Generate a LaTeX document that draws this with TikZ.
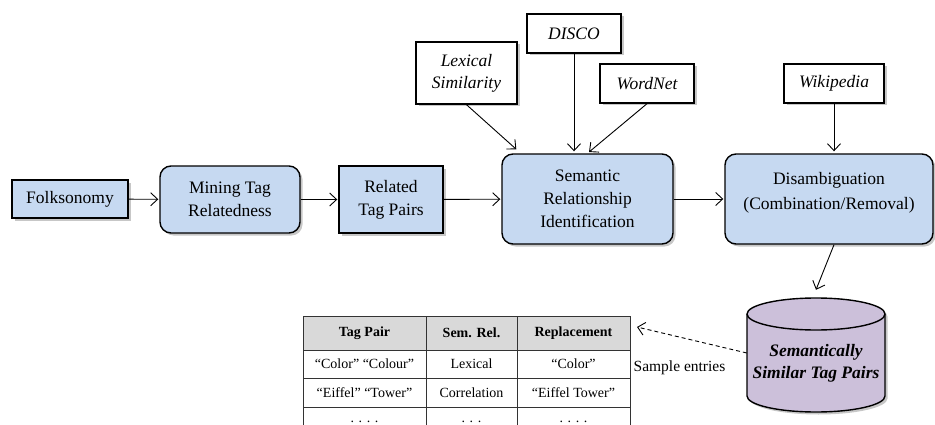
\documentclass[tikz,border=0pt]{standalone}
\usepackage{fontspec}
\setmainfont{Liberation Serif}
\usetikzlibrary{arrows.meta,shadows,calc}
\definecolor{boxblue}{HTML}{C6D9F1}
\definecolor{cylpurple}{HTML}{CCC0DA}
\definecolor{hdrgray}{HTML}{D9D9D9}
\begin{document}
\begin{tikzpicture}[x=1pt,y=1pt,
  shad/.style={drop shadow={shadow xshift=2.5pt,shadow yshift=-2.5pt,fill=black,opacity=0.22}},
  proc/.style={draw, line width=1.4pt, fill=boxblue, shad, align=center,
    font=\fontsize{17.5}{23}\selectfont, inner sep=0pt},
  rproc/.style={proc, rounded corners=11pt},
  src/.style={draw, line width=1.4pt, fill=white, shad, align=center,
    font=\itshape\fontsize{17.5}{22}\selectfont, inner sep=0pt},
  conn/.style={-{Straight Barb[length=7pt,width=13pt]}, line width=0.9pt},
  cell/.style={draw=black!80, line width=0.8pt, inner sep=0pt, font=\fontsize{14}{16}\selectfont},
  hcell/.style={cell, fill=hdrgray, font=\bfseries\fontsize{14}{16}\selectfont},
  txt/.style={align=center, inner sep=0pt}
]
\useasboundingbox[fill=white] (0,0) rectangle (935,424);

% main flow
\node[proc, minimum width=116pt, minimum height=38pt] (folk) at (70,225) {Folksonomy};
\node[rproc, minimum width=140pt, minimum height=67pt] (mine) at (230,224.5) {Mining Tag\\Relatedness};
\node[proc, minimum width=104pt, minimum height=67pt] (rel) at (391,224.5) {Related\\Tag Pairs};
\node[rproc, minimum width=171pt, minimum height=90pt] (sem) at (587.5,225) {Semantic\\Relationship\\Identification};
\node[rproc, minimum width=208pt, minimum height=90pt] (dis) at (829,225) {};
\node[txt, font=\fontsize{17.5}{25}\selectfont] (disT) at (829,231.5) {Disambiguation\\(Combination/Removal)};

% sources
\node[src, minimum width=101pt, minimum height=62pt] (lex) at (466.5,351) {Lexical\\Similarity};
\node[src, minimum width=94pt, minimum height=39pt] (disco) at (574,390.5) {DISCO};
\node[src, minimum width=94pt, minimum height=39pt] (wn) at (647,340.5) {WordNet};
\node[src, minimum width=100pt, minimum height=39pt] (wiki) at (834,340.5) {Wikipedia};

% cylinder
\path[fill=cylpurple, draw, line width=1.4pt, shad]
  (747,110) -- (747,28) arc[start angle=180,end angle=360,x radius=69pt,y radius=16pt]
  -- (885,110) arc[start angle=0,end angle=180,x radius=69pt,y radius=16pt] -- cycle;
\draw[line width=1.4pt] (747,110) arc[start angle=180,end angle=360,x radius=69pt,y radius=16pt];
\node[minimum width=138pt, minimum height=114pt, inner sep=0pt] (db) at (816,69) {};
\node[txt, font=\bfseries\itshape\fontsize{17.5}{22}\selectfont] (dbT) at (816,61) {Semantically\\Similar Tag Pairs};

% table
\node[hcell, minimum width=123pt, minimum height=34pt] (h1) at (364.5,91) {Tag Pair};
\node[hcell, minimum width=91pt, minimum height=34pt] (h2) at (471.5,91) {Sem. Rel.};
\node[hcell, minimum width=113pt, minimum height=34pt] (h3) at (573.5,91) {Replacement};
\node[cell, minimum width=123pt, minimum height=28pt] (a1) at (364.5,60) {“Color” “Colour”};
\node[cell, minimum width=91pt, minimum height=28pt] (a2) at (471.5,60) {Lexical};
\node[cell, minimum width=113pt, minimum height=28pt] (a3) at (573.5,60) {“Color”};
\node[cell, minimum width=123pt, minimum height=29pt] (b1) at (364.5,31.5) {“Eiffel” “Tower”};
\node[cell, minimum width=91pt, minimum height=29pt] (b2) at (471.5,31.5) {Correlation};
\node[cell, minimum width=113pt, minimum height=29pt] (b3) at (573.5,31.5) {“Eiffel Tower”};
\node[cell, minimum width=123pt, minimum height=33pt, text height=0pt, text depth=3pt] (c1) at (364.5,0.5) {. . . .};
\node[cell, minimum width=91pt, minimum height=33pt, text height=0pt, text depth=3pt] (c2) at (471.5,0.5) {. . .};
\node[cell, minimum width=113pt, minimum height=33pt, text height=0pt, text depth=3pt] (c3) at (573.5,0.5) {. . . .};

\node[inner sep=0pt, font=\fontsize{15.5}{18}\selectfont] (sample) at (679.5,56) {Sample entries};
\coordinate (tip) at (637,97);

% connectors
\draw[conn, shorten >=1pt] (folk) -- (mine);
\draw[conn, shorten >=1pt] (mine) -- (rel);
\draw[conn, shorten >=1pt] (rel) -- (sem);
\draw[conn, shorten >=1pt] (sem) -- (dis);
\draw[conn] (lex.south) -- ($(sem.north west)+(15,4)$);
\draw[conn, shorten >=2pt] (disco.south) -- (disco.south |- sem.north);
\draw[conn, shorten >=2pt] (wn.south) -- (sem.north);
\draw[conn, shorten >=2pt] (wiki.south) -- (wiki.south |- dis.north);
\draw[conn] ([xshift=5pt]dis.south) -- ([yshift=8pt]db.north);
\draw[conn, dashed, dash pattern=on 4pt off 3pt] ([yshift=2pt]db.west) -- (tip);
\end{tikzpicture}
\end{document}
